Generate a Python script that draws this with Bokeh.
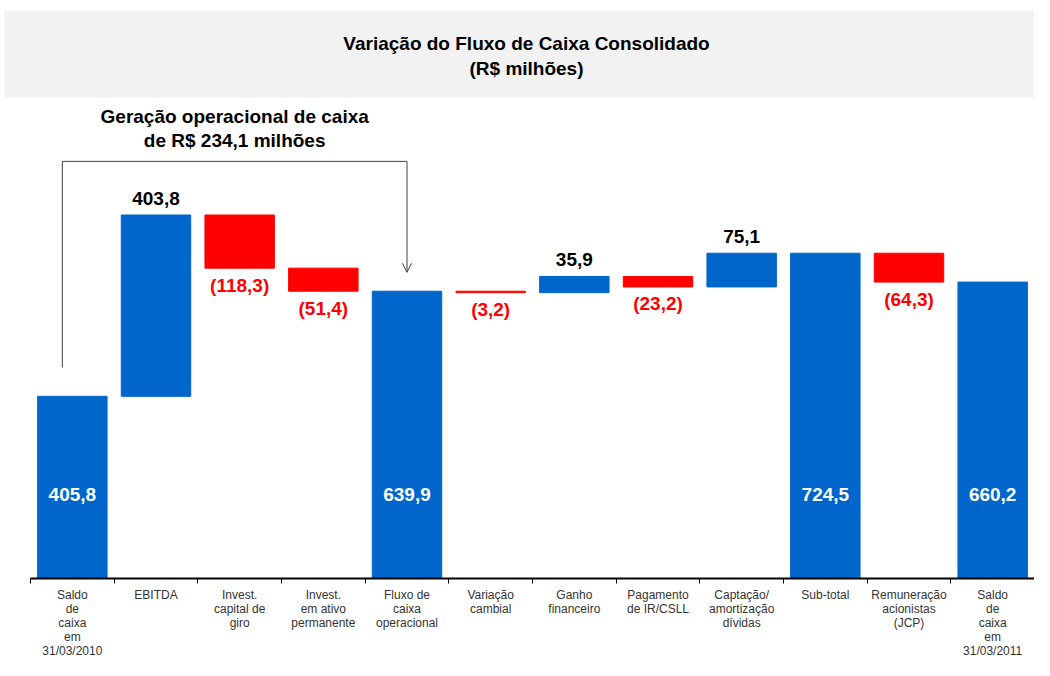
from bokeh.plotting import figure
from bokeh.models import Range1d, FixedTicker, BoxAnnotation, Arrow, OpenHead, Label, ColumnDataSource
from bokeh.embed import file_html
from bokeh.resources import INLINE
from bokeh.core.properties import value

# ---------------- data ----------------
categories = [
    "Saldo\nde\ncaixa\nem\n31/03/2010",
    "EBITDA",
    "Invest.\ncapital de\ngiro",
    "Invest.\nem ativo\npermanente",
    "Fluxo de\ncaixa\noperacional",
    "Variação\ncambial",
    "Ganho\nfinanceiro",
    "Pagamento\nde IR/CSLL",
    "Captação/\namortização\ndívidas",
    "Sub-total",
    "Remuneração\nacionistas\n(JCP)",
    "Saldo\nde\ncaixa\nem\n31/03/2011",
]
values = [405.8, 403.8, -118.3, -51.4, 639.9, -3.2, 35.9, -23.2, 75.1, 724.5, -64.3, 660.2]
kinds = ["total", "delta", "delta", "delta", "total", "delta", "delta", "delta", "delta", "total", "delta", "total"]
title_lines = ["Variação do Fluxo de Caixa Consolidado", "(R$ milhões)"]
note_lines = ["Geração operacional de caixa", "de R$ 234,1 milhões"]

# ---------------- layout constants ----------------
W, H = 1034, 660
BOTTOM_BORDER = 78
AXIS_Y = H - BOTTOM_BORDER          # frame bottom (px from top)
EBITDA_TOP_PX = 216
Y_MAX_DATA = values[0] + values[1]
SCALE = (AXIS_Y - EBITDA_TOP_PX) / Y_MAX_DATA   # px per unit
Y_TOP = AXIS_Y / SCALE
LEFT_EDGE_PX = 30
S = (W - LEFT_EDGE_PX) / len(categories)        # px per category
X0 = -0.5 - LEFT_EDGE_PX / S

def py(fig_y):
    """figure pixel row (from top) -> data y"""
    return Y_TOP - fig_y / SCALE

def pxu(px):
    return px / SCALE

BLUE = "#0066CC"
RED = "#FF0000"
FONT = "Liberation Sans"

# ---------------- waterfall ----------------
xs, bottoms, tops, colors = [], [], [], []
label_y, label_off, label_txt, label_col = [], [], [], []
running = 0.0
TOTAL_LABEL_Y = py(497)
for i, (v, k) in enumerate(zip(values, kinds)):
    if k == "total":
        b, t = 0.0, v
        running = v
    else:
        b, t = running, running + v
        running += v
    lo, hi = min(b, t), max(b, t)
    xs.append(i)
    bottoms.append(lo)
    tops.append(hi)
    colors.append(RED if v < 0 else BLUE)
    txt = f"{abs(v):.1f}".replace(".", ",")
    if v < 0:
        txt = f"({txt})"
    label_txt.append(txt)
    if k == "total":
        label_y.append(TOTAL_LABEL_Y); label_off.append(0); label_col.append("white")
    elif v >= 0:
        label_y.append(hi); label_off.append(-17); label_col.append("black")
    else:
        label_y.append(lo); label_off.append(17); label_col.append(RED)

src = ColumnDataSource(dict(x=xs, bottom=bottoms, top=tops, color=colors))
lsrc = ColumnDataSource(dict(x=xs, y=label_y, off=label_off, text=label_txt, color=label_col))

p = figure(width=W, height=H, output_backend="svg", toolbar_location=None,
           x_range=Range1d(X0, len(categories) - 0.5), y_range=Range1d(0, Y_TOP),
           y_axis_location=None, min_border_left=0, min_border_right=0,
           min_border_top=0, min_border_bottom=BOTTOM_BORDER)
p.outline_line_color = None
p.xgrid.grid_line_color = None
p.ygrid.grid_line_color = None
p.background_fill_color = "white"
p.border_fill_color = "white"

# title box
p.add_layout(BoxAnnotation(left=X0 + 4 / S, top=py(10), bottom=py(98), fill_color="#F2F2F2",
                           fill_alpha=1.0, line_color=None, level="underlay"))
xc = X0 + 526 / S
for ty, line in zip([43, 68], title_lines):
    p.add_layout(Label(x=xc, y=py(ty), text=line, text_align="center", text_baseline="middle",
                       text_font=FONT, text_font_size="19px",
                       text_font_style="bold", text_color="black"))

# bars
p.vbar(x="x", bottom="bottom", top="top", width=0.83, fill_color="color", line_color="color",
       line_width=1, source=src)

# value labels
p.text(x="x", y="y", text="text", y_offset="off", text_color="color", source=lsrc,
       text_align="center", text_baseline="middle", text_font=value(FONT),
       text_font_size="19px", text_font_style="bold")

# bracket with arrow
xa = 0 - 10 / S
xb = 4
y_start = values[0] + pxu(29)
y_h = py(162)
y_tip = values[4] + pxu(19)
p.line(x=[xa, xa, xb], y=[y_start, y_h, y_h], line_color="#404040", line_width=1)
p.add_layout(Arrow(x_start=xb, y_start=y_h, x_end=xb, y_end=y_tip, line_color="#404040", line_width=1,
                   end=OpenHead(size=9, line_color="#404040", line_width=1)))
xm = (xa + xb) / 2
for ty, line in zip([117, 141], note_lines):
    p.add_layout(Label(x=xm, y=py(ty), text=line, text_align="center", text_baseline="middle",
                       text_font=FONT, text_font_size="19px",
                       text_font_style="bold", text_color="black"))

# category axis
ax = p.xaxis[0]
ax.ticker = FixedTicker(ticks=list(range(len(categories))),
                        minor_ticks=[i - 0.5 for i in range(len(categories) + 1)])
ax.bounds = (-0.5, len(categories) - 0.5)
ax.major_label_overrides = {i: c for i, c in enumerate(categories)}
ax.major_tick_out = 0
ax.major_tick_in = 0
ax.minor_tick_out = 5
ax.minor_tick_in = 0
ax.minor_tick_line_color = "black"
ax.axis_line_color = "black"
ax.axis_line_width = 2
ax.major_label_standoff = 4
ax.major_label_text_font = FONT
ax.major_label_text_font_size = "12px"
ax.major_label_text_color = "#333333"
ax.major_label_text_line_height = 1.0

open("out.html", "w").write(file_html(p, INLINE))
